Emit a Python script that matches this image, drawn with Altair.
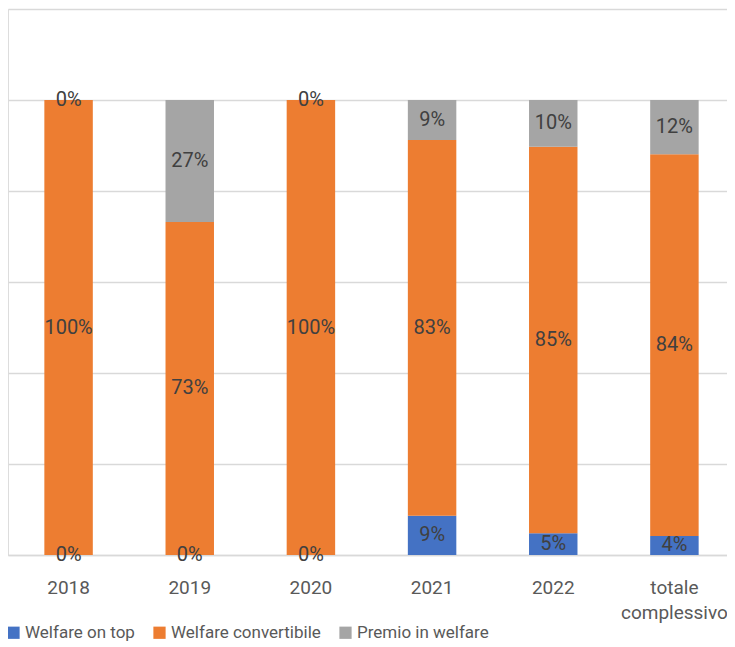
import altair as alt
import pandas as pd

categories = ["2018", "2019", "2020", "2021", "2022", "totale complessivo"]
series = ["Welfare on top", "Welfare convertibile", "Premio in welfare"]
welfare_on_top = [0, 0, 0, 8.6, 4.8, 4.2]
welfare_convertibile = [100, 73.2, 100, 82.6, 84.9, 83.9]
premio_in_welfare = [0, 26.8, 0, 8.8, 10.3, 11.9]
colors = ["#4472C4", "#ED7D31", "#A5A5A5"]

rows = []
for i, c in enumerate(categories):
    for j, (s, vals) in enumerate(zip(series, [welfare_on_top, welfare_convertibile, premio_in_welfare])):
        rows.append({"cat": c, "serie": s, "value": vals[i], "ord": j})
df = pd.DataFrame(rows)

FONT = "Roboto"

x = alt.X("cat:N", sort=categories, title=None,
          scale=alt.Scale(paddingInner=0.6, paddingOuter=0.3, range=[0, 727]),
          axis=alt.Axis(labelAngle=0, labelFontSize=19, labelColor="#595959", labelFont=FONT,
                        ticks=False, domainColor="#d9d9d9", domainWidth=1.5, labelPadding=23,
                        labelLineHeight=25,
                        labelExpr="datum.label == 'totale complessivo' ? ['totale', 'complessivo'] : datum.label"))
y = alt.Y("value:Q", stack="zero", title=None,
          scale=alt.Scale(domain=[0, 120], nice=False),
          axis=alt.Axis(values=[0, 20, 40, 60, 80, 100, 120], labels=False, ticks=False, domain=False,
                        gridColor="#d9d9d9", gridWidth=1.5))

base = alt.Chart(df).encode(
    x=x,
    y=y,
    order=alt.Order("ord:Q"),
)

bars = base.mark_bar().encode(
    color=alt.Color("serie:N", sort=series, scale=alt.Scale(domain=series, range=colors),
                    legend=alt.Legend(title=None, orient="none", legendX=-3, legendY=615,
                                      direction="horizontal", symbolType="square", symbolSize=150,
                                      symbolStrokeWidth=0, labelFontSize=17, labelColor="#595959",
                                      labelFont=FONT, columnPadding=16, labelOffset=3)),
)

labels = base.mark_text(fontSize=20, color="#404040", font=FONT).encode(
    y=alt.Y("value:Q", stack="zero", bandPosition=0.5),
    text=alt.Text("label:N"),
).transform_calculate(label="format(datum.value, '.0f') + '%'")

chart = alt.layer(bars, labels).properties(
    width=719, height=546,
    autosize=alt.AutoSizeParams(type="none"),
    padding={"left": 0, "top": 1, "right": 0, "bottom": 92},
).configure_view(stroke=None).configure(background="white")

chart.save("out.html", embed_options={"renderer": "svg", "actions": False})
